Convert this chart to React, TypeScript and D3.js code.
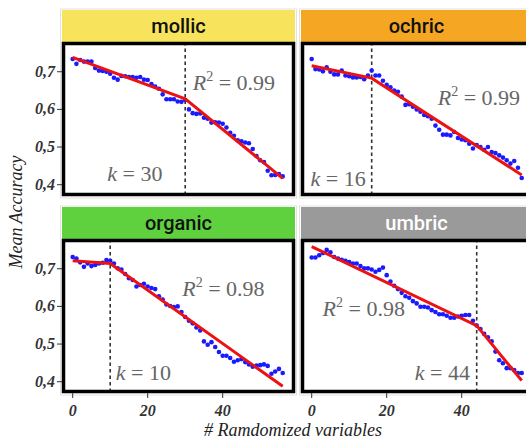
import React from 'react';
import * as d3 from 'd3';

// x positions: number of randomized variables
const nVars = d3.range(57);

const mollic = [0.734, 0.721, 0.731, 0.727, 0.727, 0.727, 0.71, 0.703, 0.702, 0.70, 0.695, 0.684, 0.679, 0.689, 0.688, 0.686,
  0.686, 0.684, 0.686, 0.679, 0.678, 0.667, 0.661, 0.655, 0.640, 0.627, 0.627, 0.627, 0.621, 0.62, 0.625, 0.60, 0.59,
  0.588, 0.589, 0.578, 0.575, 0.565, 0.566, 0.565, 0.562, 0.552, 0.538, 0.53, 0.518, 0.515, 0.512, 0.51, 0.495, 0.476,
  0.465, 0.46, 0.437, 0.425, 0.426, 0.428, 0.422];

const ochric = [0.734, 0.707, 0.706, 0.701, 0.712, 0.70, 0.693, 0.693, 0.703, 0.69, 0.688, 0.685, 0.685, 0.686, 0.68,
  0.69, 0.703, 0.69, 0.69, 0.676, 0.665, 0.659, 0.65, 0.647, 0.634, 0.612, 0.614, 0.607, 0.60, 0.594, 0.585, 0.582,
  0.575, 0.557, 0.546, 0.533, 0.533, 0.531, 0.54, 0.524, 0.52, 0.518, 0.509, 0.496, 0.505, 0.50, 0.493, 0.50, 0.487,
  0.484, 0.478, 0.472, 0.465, 0.456, 0.463, 0.445, 0.418];

const organic = [0.731, 0.727, 0.717, 0.705, 0.714, 0.707, 0.71, 0.714, 0.716, 0.723, 0.721, 0.714, 0.701, 0.698, 0.686,
  0.675, 0.67, 0.653, 0.657, 0.66, 0.653, 0.649, 0.646, 0.627, 0.618, 0.605, 0.601, 0.598, 0.60, 0.585, 0.572, 0.562,
  0.555, 0.544, 0.536, 0.507, 0.498, 0.505, 0.492, 0.479, 0.469, 0.469, 0.463, 0.453, 0.457, 0.46, 0.452, 0.446, 0.44,
  0.443, 0.444, 0.446, 0.442, 0.421, 0.427, 0.434, 0.423];

const umbric = [0.73, 0.73, 0.736, 0.742, 0.75, 0.744, 0.731, 0.727, 0.724, 0.721, 0.718, 0.714, 0.714, 0.707, 0.701,
  0.701, 0.698, 0.692, 0.697, 0.703, 0.683, 0.666, 0.655, 0.646, 0.636, 0.627, 0.623, 0.614, 0.608, 0.599, 0.599,
  0.597, 0.59, 0.585, 0.579, 0.579, 0.575, 0.57, 0.57, 0.573, 0.575, 0.577, 0.577, 0.562, 0.549, 0.54, 0.527, 0.518,
  0.507, 0.48, 0.457, 0.449, 0.436, 0.436, 0.431, 0.423, 0.423];

const soilNames = ['mollic', 'ochric', 'organic', 'umbric'];
const seriesValues = [mollic, ochric, organic, umbric];
const breakK = [30, 16, 10, 44];
// segmented fit: value at x=0, at x=k, at x=56
const fitStart = [0.738, 0.716, 0.721, 0.759];
const fitBreak = [0.628, 0.683, 0.714, 0.549];
const fitEnd = [0.417, 0.426, 0.388, 0.403];
const r2Labels = ['0.99', '0.99', '0.98', '0.98'];
const yTicks = [0.4, 0.5, 0.6, 0.7];
const xTicks = [0, 20, 40];

// annotation anchors in data units [x, y]
const r2Pos = [[32, 0.652], [33.6, 0.612], [29.2, 0.627], [2.9, 0.575]];
const kPos = [[9.2, 0.41], [-0.3, 0.397], [11.5, 0.405], [27.5, 0.405]];

const stripFill = ['#f8e45c', '#f5a623', '#5fd13f', '#9a9a9a'];
const stripText = ['#111', '#111', '#111', '#fff'];

const boxW = 233;
const boxH = 154;
const colX = [62, 301];
const rowBox = [42, 239];
const stripH = 32;

const serif = { fontFamily: "'Liberation Serif', 'DejaVu Serif', serif" };
const sans = { fontFamily: "Roboto, 'Liberation Sans', sans-serif" };

function Panel({ idx }: { idx: number }) {
  const col = idx % 2;
  const row = Math.floor(idx / 2);
  const x0 = colX[col];
  const y0 = rowBox[row];
  const x = d3.scaleLinear().domain([-2.85, 59.28]).range([x0, x0 + boxW]);
  const y = d3.scaleLinear().domain([0.37, 0.779]).range([y0 + boxH, y0]);
  const values = seriesValues[idx];
  const k = breakK[idx];
  const fitPts: [number, number][] = [[0, fitStart[idx]], [k, fitBreak[idx]], [56, fitEnd[idx]]];
  const line = d3.line<[number, number]>().x(d => x(d[0])).y(d => y(d[1]));
  const clipId = `clip${idx}`;
  const [rx, ry] = r2Pos[idx];
  const [kx, ky] = kPos[idx];

  return (
    <g>
      <defs>
        <clipPath id={clipId}>
          <rect x={x0} y={y0} width={boxW} height={boxH} />
        </clipPath>
      </defs>
      <rect x={x0 - 1.5} y={y0 - stripH - 1} width={boxW + 3} height={boxH + stripH + 3} fill="none" stroke="#e2e2e2" strokeWidth={1} />
      <rect x={x0} y={y0 - stripH} width={boxW} height={stripH} fill={stripFill[idx]} />
      <text x={x0 + boxW / 2 - (col === 1 ? 1 : 0)} y={y0 - stripH / 2 + 7} textAnchor="middle"
        style={sans} fontWeight={500} fontSize={20} fill={stripText[idx]}>{soilNames[idx]}</text>
      <rect x={x0} y={y0} width={boxW} height={boxH} fill="#fff" />
      <g clipPath={`url(#${clipId})`}>
        <line x1={x(k)} x2={x(k)} y1={y0} y2={y0 + boxH} stroke="#333" strokeWidth={1.6} strokeDasharray="3.5,3" />
        <text x={x(rx)} y={y(ry)} style={serif} fontSize={22} fill="#666">
          <tspan fontStyle="italic">R</tspan>
          <tspan dy={-9} fontSize={14}>2</tspan>
          <tspan dy={9}> = {r2Labels[idx]}</tspan>
        </text>
        <text x={x(kx)} y={y(ky)} style={serif} fontSize={22} fill="#666">
          <tspan fontStyle="italic">k</tspan> = {k}
        </text>
        {values.map((v, i) => (
          <circle key={i} cx={x(nVars[i])} cy={y(v)} r={2.3} fill="#1a1aff" />
        ))}
        <path d={line(fitPts) || ''} fill="none" stroke="#ee1111" strokeWidth={3} />
      </g>
      <rect x={x0 + 1.5} y={y0 + 1.5} width={boxW - 3} height={boxH - 3} fill="none" stroke="#000" strokeWidth={3.5} />
      {col === 0 && yTicks.map(t => (
        <g key={t}>
          <line x1={x0 - 5} x2={x0} y1={y(t)} y2={y(t)} stroke="#333" strokeWidth={1} />
          <text x={x0 - 7} y={y(t) + 5} textAnchor="end" style={serif} fontStyle="italic"
            fontWeight="bold" fontSize={16} fill="#333">{d3.format('.1f')(t).replace('.', ',')}</text>
        </g>
      ))}
      {row === 1 && xTicks.map(t => (
        <g key={t}>
          <line x1={x(t)} x2={x(t)} y1={y0 + boxH} y2={y0 + boxH + 5} stroke="#333" strokeWidth={1} />
          <text x={x(t)} y={y0 + boxH + 23} textAnchor="middle" style={serif} fontStyle="italic"
            fontWeight="bold" fontSize={16} fill="#333">{t}</text>
        </g>
      ))}
    </g>
  );
}

export default function App() {
  return (
    <svg width={526} height={443} style={{ position: 'absolute', left: 0, top: 0 }}>
      <rect width={526} height={443} fill="#fff" />
      {soilNames.map((_, i) => <Panel key={i} idx={i} />)}
      <text transform="translate(22,212) rotate(-90)" textAnchor="middle" style={serif}
        fontStyle="italic" fontSize={18} fill="#222">Mean Accuracy</text>
      <text x={293} y={436} textAnchor="middle" style={serif} fontStyle="italic" fontSize={18} fill="#222">
        # Ramdomized variables
      </text>
    </svg>
  );
}
